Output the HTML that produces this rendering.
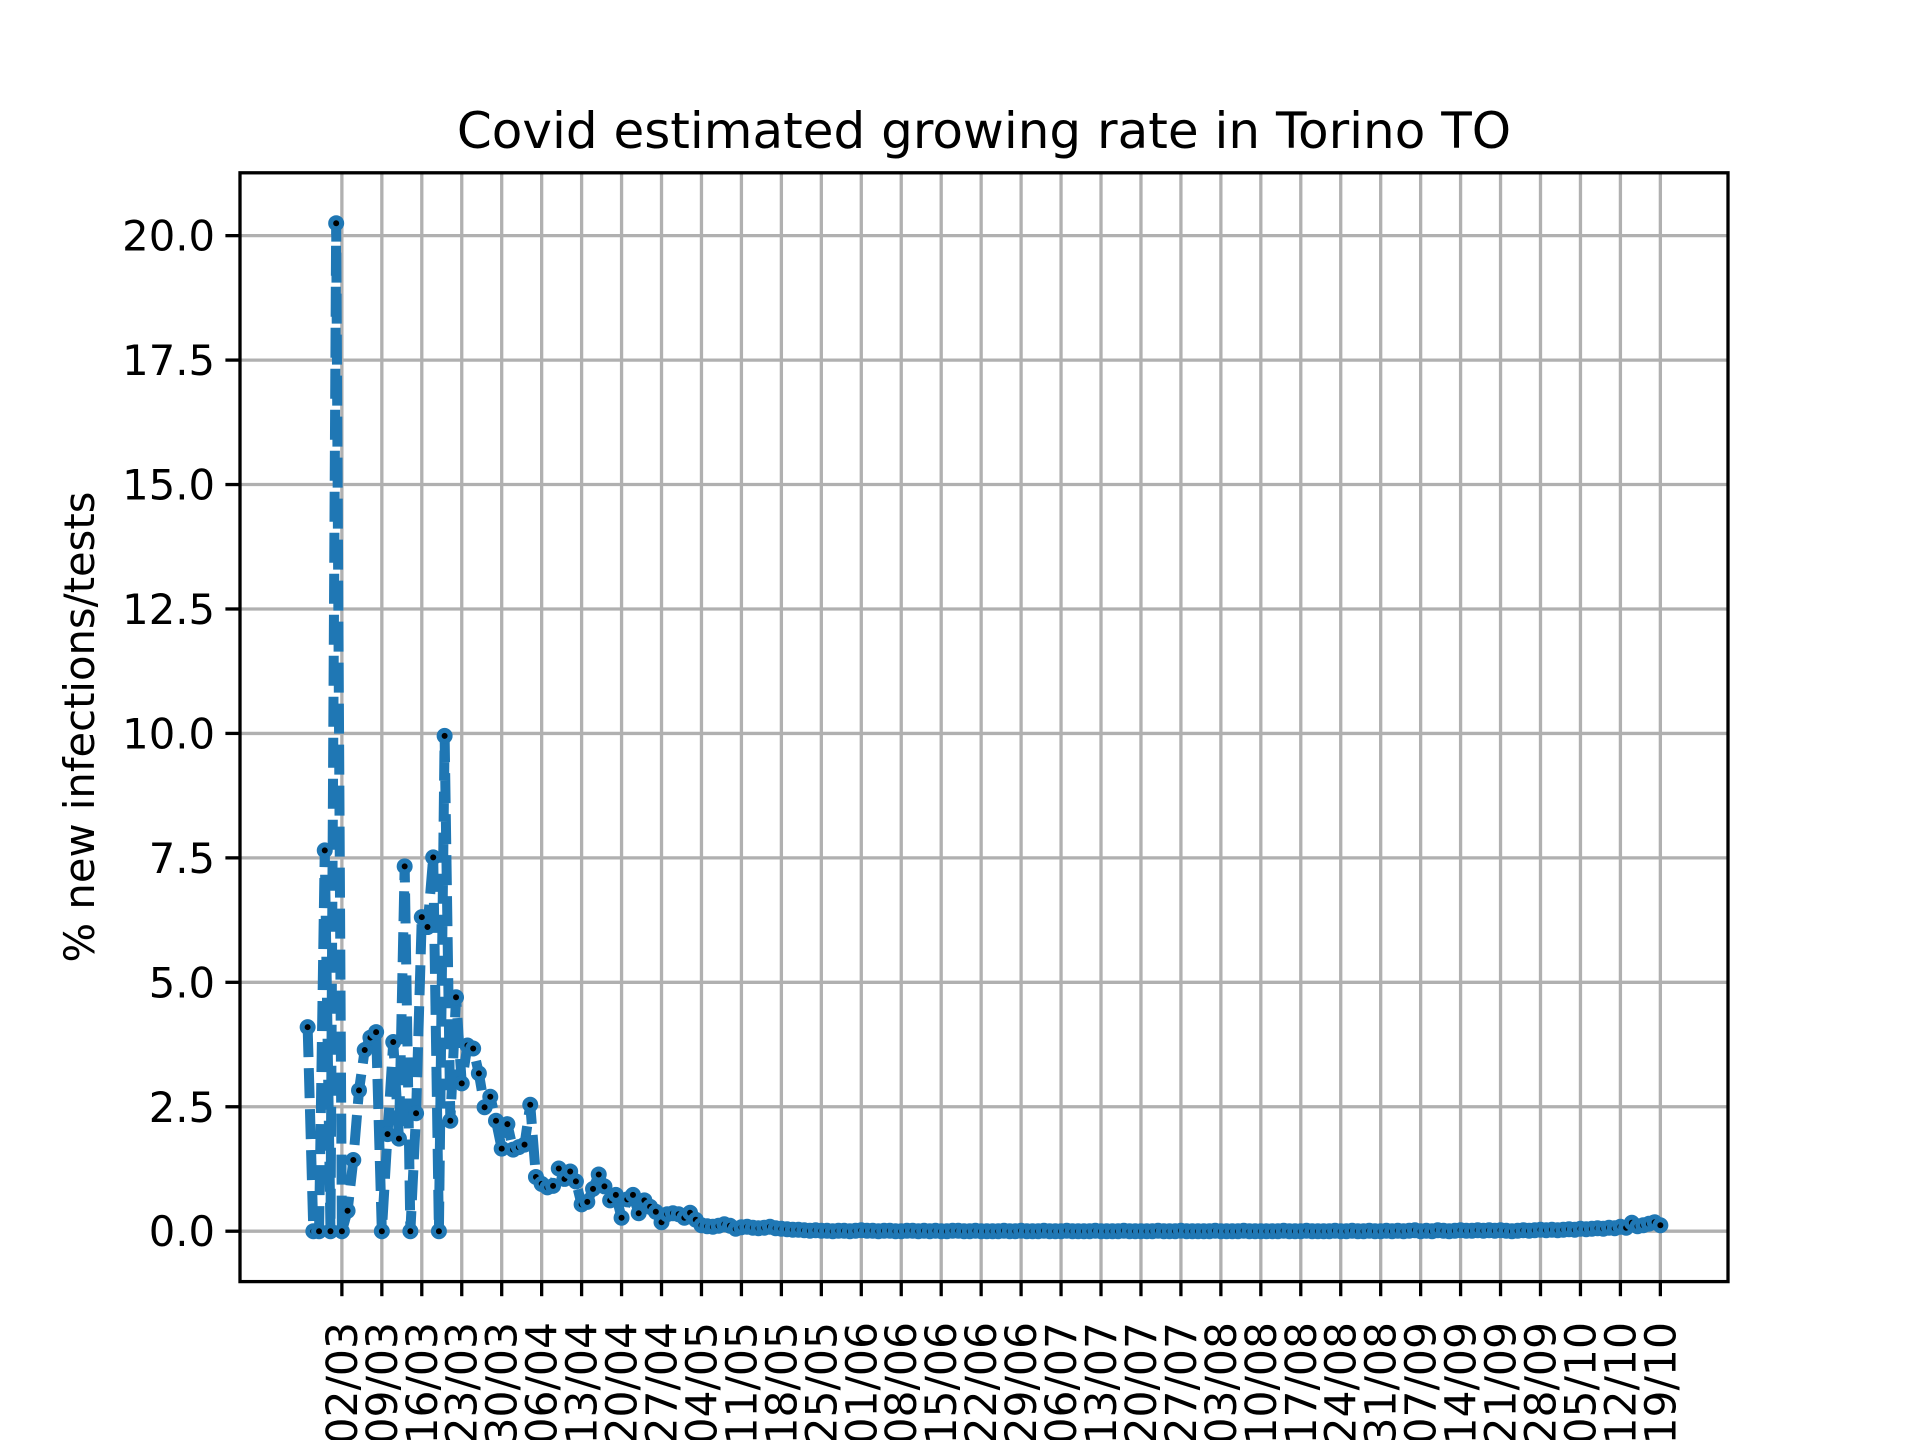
<!DOCTYPE html>
<html><head><meta charset="utf-8"><style>
html,body{margin:0;padding:0;background:#fff;}
svg{display:block;font-family:"DejaVu Sans","Liberation Sans",sans-serif;}
</style></head><body>
<svg id="chart" width="1920" height="1440" viewBox="0 0 1920 1440" xmlns="http://www.w3.org/2000/svg">
<rect width="1920" height="1440" fill="#fff"/>
<g id="grid"></g>
<g id="series"></g>
<rect x="240" y="172.8" width="1488" height="1108.8" fill="none" stroke="#000" stroke-width="3.3"/>
<g id="axes"></g>
<text x="984" y="148" font-size="50" text-anchor="middle">Covid estimated growing rate in Torino TO</text>
<text transform="translate(94,727) rotate(-90)" font-size="41.7" text-anchor="middle">% new infections/tests</text>
</svg>
<script>
// Data: daily values starting 25/02 (day index 0), ending 19/10
const headValues = [4.10,0,0,7.65,0,20.25,0,0.41,1.43,2.83,3.64,3.89,4.0,0,1.95,3.80,1.86,7.33,0,2.37,6.31,6.11,7.51,0,9.95,2.22,4.70,2.97,3.73,3.67,3.17,2.49,2.70,2.22,1.66,2.15,1.64,1.69,1.74,2.54,1.09,0.95,0.88,0.91,1.26,1.05,1.20,1.0,0.54,0.59,0.85,1.14,0.90,0.62,0.73,0.27,0.64,0.73,0.36,0.62,0.49,0.39,0.18,0.34,0.36,0.34,0.27,0.37,0.23,0.12,0.10,0.09,0.11,0.14,0.11,0.05];
const tailValues = [0.08,0.09,0.07,0.06,0.07,0.09,0.06,0.05,0.04,0.03,0.03,0.02,
0.01,0.02,0.01,0.01,0.0,0.01,0.01,0.0,0.01,0.02,0.01,0.01,0.0,0.01,0.01,0.0,0.0,0.01,0.01,0.0,0.01,0.0,0.01,0.0,0.0,0.01,0.01,0.0,0.0,0.01,0.0,0.0,0.0,
0.0,0.01,0.0,0.0,0.01,0.0,0.0,0.0,0.01,0.0,0.0,0.0,0.01,0.0,0.0,0.0,0.0,0.01,0.0,0.0,0.0,0.0,0.01,0.0,0.0,0.0,0.0,0.0,0.01,0.0,
0.0,0.0,0.01,0.0,0.0,0.0,0.0,0.0,0.01,0.0,0.0,0.0,0.0,0.01,0.0,0.0,0.0,0.0,0.0,0.0,0.01,0.0,0.0,0.0,0.01,0.0,0.0,0.0,0.0,0.01,
0.0,0.0,0.01,0.0,0.0,0.01,0.0,0.0,0.01,0.0,0.01,0.0,0.01,0.02,0.0,0.01,0.0,0.02,0.01,0.0,0.01,0.02,0.01,0.01,0.02,0.01,0.02,0.01,0.02,0.01,
0.0,0.01,0.02,0.01,0.02,0.03,0.02,0.03,0.02,0.03,0.04,0.03,0.05,0.04,0.05,0.06,0.05,0.07,0.06,0.09,0.07,0.17,0.10,0.12,0.15,0.18,0.12];
const values = headValues.concat(tailValues);
const tickLabels = ["02/03","09/03","16/03","23/03","30/03","06/04","13/04","20/04","27/04","04/05","11/05","18/05","25/05","01/06","08/06","15/06","22/06","29/06","06/07","13/07","20/07","27/07","03/08","10/08","17/08","24/08","31/08","07/09","14/09","21/09","28/09","05/10","12/10","19/10"];
const firstTickDay = 6;
const yTicks = [0,2.5,5,7.5,10,12.5,15,17.5,20];

const NS = "http://www.w3.org/2000/svg";
const L=240,R=1728,T=172.8,B=1281.6;
const n = values.length - 1;
const xMin = -0.05*n, xMax = n*1.05;
const vmax = Math.max(...values), vmin = Math.min(...values);
const yMin = vmin-(vmax-vmin)*0.05, yMax = vmax+(vmax-vmin)*0.05;
const xs = d => L + (d-xMin)/(xMax-xMin)*(R-L);
const ys = v => B - (v-yMin)/(yMax-yMin)*(B-T);
function mk(tag, attrs, parent){const e=document.createElementNS(NS,tag);for(const k in attrs)e.setAttribute(k,attrs[k]);parent.appendChild(e);return e;}
const grid=document.getElementById('grid'), axes=document.getElementById('axes'), series=document.getElementById('series');

tickLabels.forEach((lab,i)=>{
  const x = xs(firstTickDay+7*i);
  const g = mk('line',{x1:x,x2:x,y1:T,y2:B,stroke:'#b0b0b0','stroke-width':3.3},grid);
  
  
  const t = mk('line',{x1:x,x2:x,y1:B,y2:B+14.6,stroke:'#000','stroke-width':3.3},axes);
  
  
  const tx = mk('text',{transform:`translate(${x+15},1322) rotate(-90)`,'font-size':42.5,'text-anchor':'end'},axes);
  tx.textContent = lab;
  
  
});
yTicks.forEach(v=>{
  const y = ys(v);
  const g = mk('line',{x1:L,x2:R,y1:y,y2:y,stroke:'#b0b0b0','stroke-width':3.3},grid);
  
  
  const t = mk('line',{x1:L-14.6,x2:L,y1:y,y2:y,stroke:'#000','stroke-width':3.3},axes);
  
  
  const tx = mk('text',{x:L-25,y:y+15,'font-size':41.7,'text-anchor':'end'},axes);
  tx.textContent = v.toFixed(1);
  
  
});
const pts = values.map((v,i)=>xs(i).toFixed(2)+','+ys(v).toFixed(2)).join(' ');
const line = mk('polyline',{points:pts,fill:'none',stroke:'#1f77b4','stroke-width':10,'stroke-dasharray':'30 11','stroke-linejoin':'round'},series);


values.forEach((v,i)=>{
  const c = mk('circle',{cx:xs(i),cy:ys(v),r:5.5,fill:'#000',stroke:'#1f77b4','stroke-width':5},series);
  
  
});
</script>
</body></html>
